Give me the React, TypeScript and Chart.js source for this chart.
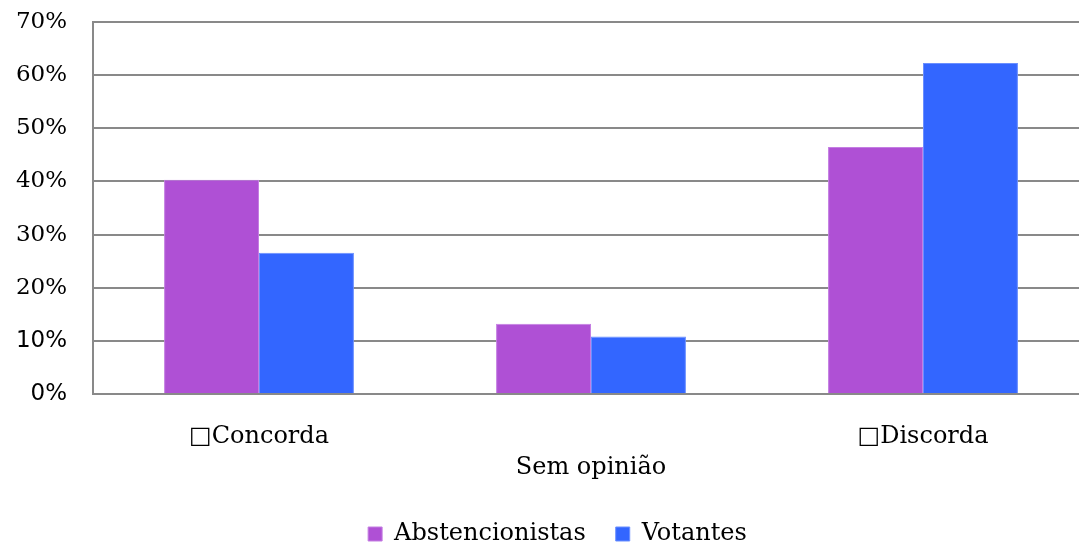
import React, { useEffect, useRef } from "react";
import { Chart, registerables } from "chart.js";

Chart.register(...registerables);

const categories = ["\u25A1Concorda", "Sem opinião", "\u25A1Discorda"];
const abstencionistas = [40.3, 13.2, 46.5];
const votantes = [26.6, 10.8, 62.3];
const yTicks = [0, 10, 20, 30, 40, 50, 60, 70];

const legendShift = {
  id: "legendShift",
  afterLayout(chart: any) {
    if (chart.legend) {
      chart.legend.left += 13;
      chart.legend.right += 13;
    }
  },
};

export default function App() {
  const ref = useRef<HTMLCanvasElement | null>(null);
  useEffect(() => {
    document.body.style.margin = "0";
    document.body.style.overflow = "hidden";
    const serif = "'DejaVu Serif', serif";
    const chart = new Chart(ref.current!, {
      type: "bar",
      data: {
        labels: categories,
        datasets: [
          {
            label: "Abstencionistas",
            data: abstencionistas,
            backgroundColor: "#AF50D5",
            borderColor: "#C47EE2",
            borderWidth: 1,
            categoryPercentage: 0.572,
            barPercentage: 1,
          },
          {
            label: "Votantes",
            data: votantes,
            backgroundColor: "#3366FF",
            borderColor: "#6A8FFF",
            borderWidth: 1,
            categoryPercentage: 0.572,
            barPercentage: 1,
          },
        ],
      },
      plugins: [legendShift],
      options: {
        animation: false,
        responsive: true,
        maintainAspectRatio: false,
        layout: { padding: { top: 22, right: 0, left: 0, bottom: 0 } },
        plugins: {
          tooltip: { enabled: false },
          legend: {
            position: "bottom",
            maxHeight: 54,
            labels: {
              boxWidth: 14,
              boxHeight: 14,
              padding: 30,
              color: "#000",
              font: { family: serif, size: 24 },
            },
          },
        },
        scales: {
          x: {
            grid: { display: false, drawTicks: false },
            border: { display: true, color: "#898989", width: 2 },
            ticks: {
              color: "#000",
              padding: 27,
              maxRotation: 0,
              autoSkip: false,
              font: { family: serif, size: 24, lineHeight: 1.3 },
              callback: (_v: any, i: number) => (i === 1 ? ["", categories[i]] : categories[i]),
            },
            afterFit: (s: any) => {
              s.height = 98;
            },
          },
          y: {
            min: 0,
            max: 70,
            afterBuildTicks: (s: any) => {
              s.ticks = yTicks.map((v) => ({ value: v }));
            },
            grid: { color: "#898989", lineWidth: 2, drawTicks: false },
            border: { display: true, color: "#898989", width: 2 },
            ticks: {
              color: "#000",
              padding: 26,
              callback: (v: any) => v + "%",
              font: (ctx: any) => ({
                family: ctx.tick && ctx.tick.value <= 10 ? "'DejaVu Sans', sans-serif" : serif,
                size: 23,
              }),
            },
            afterFit: (s: any) => {
              s.width = 93;
              s.paddingTop = 0;
              s.paddingBottom = 0;
            },
          },
        },
      },
    });
    return () => chart.destroy();
  }, []);
  return (
    <div style={{ width: 1079, height: 546, overflow: "hidden", position: "relative" }}>
      <div style={{ width: 1089, height: 546, position: "absolute", left: 0, top: 0 }}>
        <canvas ref={ref} />
      </div>
    </div>
  );
}
